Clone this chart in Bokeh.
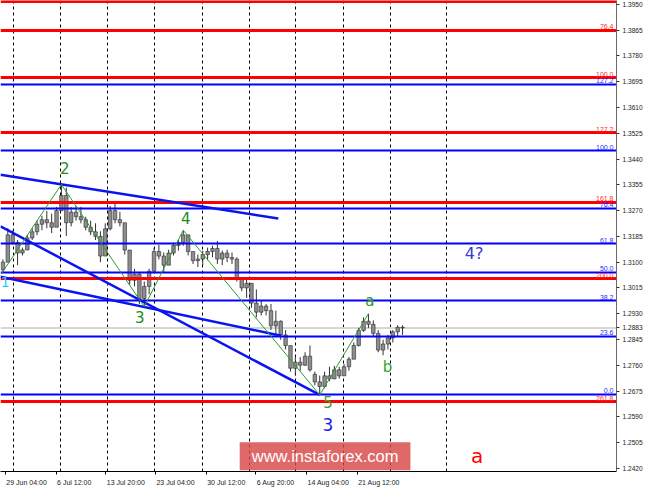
from bokeh.plotting import figure
from bokeh.models import FixedTicker, PrintfTickFormatter, Label, ColumnDataSource, Span
from bokeh.embed import file_html
from bokeh.resources import INLINE
from bokeh.core.properties import value

# ---------------- data ----------------
bar_open = [1.3075, 1.3100, 1.3190, 1.3165, 1.3130, 1.3140, 1.3180, 1.3200, 1.3225, 1.3240,
            1.3230, 1.3215, 1.3270, 1.3320, 1.3230, 1.3265, 1.3250, 1.3240, 1.3215, 1.3200,
            1.3185, 1.3120, 1.3210, 1.3270, 1.3240, 1.3230, 1.3140, 1.3040, 1.3060, 1.2980,
            1.3020, 1.3070, 1.3135, 1.3120, 1.3090, 1.3130, 1.3155, 1.3165, 1.3190, 1.3135,
            1.3105, 1.3110, 1.3125, 1.3135, 1.3145, 1.3110, 1.3130, 1.3115, 1.3110, 1.3045,
            1.3015, 1.3030, 1.2965, 1.2935, 1.2955, 1.2940, 1.2890, 1.2905, 1.2860, 1.2825,
            1.2750, 1.2770, 1.2760, 1.2790, 1.2730, 1.2705, 1.2690, 1.2725, 1.2715, 1.2745,
            1.2725, 1.2755, 1.2780, 1.2825, 1.2875, 1.2905, 1.2895, 1.2865, 1.2810, 1.2830,
            1.2850, 1.2870, 1.2885]
bar_high = [1.3109, 1.3212, 1.3205, 1.3173, 1.3148, 1.3189, 1.3212, 1.3237, 1.3253, 1.3269,
            1.3260, 1.3282, 1.3356, 1.3346, 1.3282, 1.3285, 1.3282, 1.3250, 1.3237, 1.3228,
            1.3202, 1.3228, 1.3285, 1.3292, 1.3266, 1.3212, 1.3116, 1.3078, 1.3068, 1.3036,
            1.3078, 1.3148, 1.3157, 1.3132, 1.3141, 1.3164, 1.3173, 1.3205, 1.3180, 1.3132,
            1.3125, 1.3138, 1.3148, 1.3154, 1.3170, 1.3138, 1.3141, 1.3132, 1.3116, 1.3046,
            1.3042, 1.3030, 1.3010, 1.2972, 1.2962, 1.2962, 1.2940, 1.2908, 1.2876, 1.2822,
            1.2790, 1.2787, 1.2803, 1.2825, 1.2739, 1.2726, 1.2739, 1.2755, 1.2758, 1.2755,
            1.2764, 1.2787, 1.2835, 1.2883, 1.2918, 1.2930, 1.2908, 1.2876, 1.2844, 1.2860,
            1.2876, 1.2892, 1.2892]
bar_low = [1.3068, 1.3100, 1.3157, 1.3090, 1.3122, 1.3157, 1.3173, 1.3189, 1.3205, 1.3212,
           1.3196, 1.3228, 1.3269, 1.3186, 1.3218, 1.3237, 1.3228, 1.3205, 1.3189, 1.3173,
           1.3100, 1.3148, 1.3205, 1.3228, 1.3218, 1.3125, 1.3026, 1.3020, 1.2962, 1.2953,
           1.2994, 1.3078, 1.3109, 1.3068, 1.3094, 1.3122, 1.3138, 1.3154, 1.3122, 1.3094,
           1.3084, 1.3090, 1.3106, 1.3116, 1.3094, 1.3090, 1.3100, 1.3094, 1.3036, 1.3004,
           1.2982, 1.2950, 1.2918, 1.2924, 1.2924, 1.2876, 1.2860, 1.2844, 1.2812, 1.2739,
           1.2726, 1.2742, 1.2758, 1.2739, 1.2694, 1.2662, 1.2684, 1.2707, 1.2716, 1.2716,
           1.2726, 1.2742, 1.2780, 1.2822, 1.2870, 1.2883, 1.2854, 1.2803, 1.2793, 1.2812,
           1.2835, 1.2854, 1.2860]
bar_close = [1.3100, 1.3190, 1.3165, 1.3130, 1.3140, 1.3180, 1.3200, 1.3225, 1.3240, 1.3230,
             1.3215, 1.3270, 1.3320, 1.3230, 1.3265, 1.3250, 1.3240, 1.3215, 1.3200, 1.3185,
             1.3120, 1.3210, 1.3270, 1.3240, 1.3230, 1.3140, 1.3040, 1.3060, 1.2980, 1.3020,
             1.3070, 1.3135, 1.3120, 1.3090, 1.3130, 1.3155, 1.3165, 1.3190, 1.3135, 1.3105,
             1.3110, 1.3125, 1.3135, 1.3145, 1.3110, 1.3130, 1.3115, 1.3110, 1.3045, 1.3015,
             1.3030, 1.2965, 1.2935, 1.2955, 1.2940, 1.2890, 1.2905, 1.2860, 1.2825, 1.2750,
             1.2770, 1.2760, 1.2790, 1.2745, 1.2705, 1.2690, 1.2725, 1.2715, 1.2745, 1.2725,
             1.2755, 1.2780, 1.2825, 1.2875, 1.2905, 1.2895, 1.2865, 1.2810, 1.2830, 1.2850,
             1.2870, 1.2885, 1.2883]
current_price = 1.2883

price_ticks = [1.3950, 1.3865, 1.3780, 1.3695, 1.3610, 1.3525, 1.3440, 1.3355, 1.3270,
               1.3185, 1.3100, 1.3015, 1.2930, 1.2845, 1.2760, 1.2675, 1.2590, 1.2505, 1.2420]
date_labels = ["29 Jun 04:00", "6 Jul 12:00", "13 Jul 20:00", "23 Jul 04:00",
               "30 Jul 12:00", "6 Aug 20:00", "14 Aug 04:00", "21 Aug 12:00"]
date_tick_x = [0.5, 10.9, 21.1, 31.3, 41.7, 51.9, 62.3, 72.7]
grid_x = [2.1, 11.9, 21.5, 31.1, 40.9, 50.5, 60.1, 69.9, 79.5, 91.1]

blue_fib_levels = [1.2665, 1.2855, 1.2972, 1.3067, 1.3161, 1.3278, 1.3468, 1.3686]
blue_fib_labels = ["0.0", "23.6", "38.2", "50.0", "61.8", "76.4", "100.0", "127.2"]
red_fib_levels = [1.2640, 1.3046, 1.3298, 1.3527, 1.3708, 1.3864, 1.3961]
red_fib_labels = ["261.8", "200.0", "161.8", "127.2", "100.0", "76.4", ""]

trend_x0 = [-0.5, -0.5, -0.5]
trend_p0 = [1.3388, 1.3218, 1.3052]
trend_x1 = [56.5, 65.0, 57.1]
trend_p1 = [1.3244, 1.2662, 1.2857]

wave_x = [-0.3, 12, 29, 37, 65, 75]
wave_p = [1.3062, 1.3356, 1.2953, 1.3205, 1.2662, 1.2930]

label_text = ["2", "3", "4", "a", "b", "5", "3", "4?", "a", "1"]
label_x = [12.7, 28.1, 37.5, 75.3, 78.9, 66.7, 66.7, 96.7, 97.3, 0.45]
label_p = [1.3410, 1.2918, 1.3247, 1.2972, 1.2755, 1.2640, 1.2563, 1.3129, 1.2461, 1.3036]
label_color = ["#238a23", "#238a23", "#238a23", "#2a962a", "#3c9f32", "#4f9a22",
               "#1c1cf0", "#3a3ad0", "#ff0000", "#30c8ff"]
label_size = ["15px", "15px", "15px", "15px", "15px", "15px", "17px", "16px", "20px", "14px"]

watermark = "www.instaforex.com"

# ---------------- figure ----------------
W, H = 649, 488
BR, BB = 33, 17
x_start, x_end = -0.5, 125.9
y_start, y_end = 1.24096, 1.39628

p = figure(width=W, height=H, x_range=(x_start, x_end), y_range=(y_start, y_end),
           y_axis_location="right", toolbar_location=None, output_backend="svg",
           min_border_left=0, min_border_top=0, min_border_right=BR, min_border_bottom=BB,
           background_fill_color="white", border_fill_color="white")
p.outline_line_color = None

# grid
p.ygrid.visible = False
p.xgrid.ticker = FixedTicker(ticks=grid_x)
p.xgrid.grid_line_color = "black"
p.xgrid.grid_line_dash = "3 3"
p.xgrid.grid_line_width = 1

# y axis (right) with the current price shown among the labels
ya = p.yaxis[0]
ya.ticker = FixedTicker(ticks=price_ticks + [current_price])
ya.formatter = PrintfTickFormatter(format="%.4f")
ya.major_tick_in = 0
ya.major_tick_out = 3
ya.minor_tick_line_color = None
ya.axis_line_color = "#6a6a6a"
ya.major_tick_line_color = "#333333"
ya.major_label_text_font = "Liberation Sans"
ya.major_label_text_font_size = "6.6px"
ya.major_label_text_color = "#222222"
ya.major_label_standoff = 3

# x axis with left-anchored labels: major ticks at label centres, marks at the real ticks
char_w = {d: 0.556 for d in "0123456789"}
char_w.update({" ": 0.278, ":": 0.278, "J": 0.5, "u": 0.556, "n": 0.556, "l": 0.222,
               "A": 0.667, "g": 0.556})
fs_x = 7.0
px_per_unit = (W - BR) / (x_end - x_start)
centers = []
for t, lab in zip(date_tick_x, date_labels):
    wpx = sum(char_w.get(c, 0.556) for c in lab) * fs_x
    centers.append(round(t + (wpx / 2 + 1) / px_per_unit, 3))
xa = p.xaxis[0]
xa.ticker = FixedTicker(ticks=centers, minor_ticks=date_tick_x)
xa.major_label_overrides = {c: lab for c, lab in zip(centers, date_labels)}
xa.major_tick_line_color = None
xa.minor_tick_in = 0
xa.minor_tick_out = 3
xa.minor_tick_line_color = "black"
xa.axis_line_color = "black"
xa.major_label_text_font = "Liberation Sans"
xa.major_label_text_font_size = "7px"
xa.major_label_text_color = "#222222"
xa.major_label_standoff = 1

# current price line
p.add_layout(Span(location=current_price, dimension="width", line_color="#d6d6d6",
                  line_width=2, level="underlay"))

# candles
bar_x = list(range(len(bar_open)))
src = ColumnDataSource(dict(
    x=bar_x, high=bar_high, low=bar_low,
    top=[max(o, c) for o, c in zip(bar_open, bar_close)],
    bottom=[min(o, c) for o, c in zip(bar_open, bar_close)],
))
p.segment(x0="x", y0="low", x1="x", y1="high", source=src, line_color="#333333", line_width=1)
p.vbar(x="x", width=0.72, top="top", bottom="bottom", source=src,
       fill_color="#8e8e8e", line_color="#2a2a2a", line_width=0.6)

# fibonacci levels
p.hspan(y=red_fib_levels, line_color="#ff0000", line_width=3)
p.hspan(y=blue_fib_levels, line_color="#0000ff", line_width=2)
p.text(x=[x_end] * len(red_fib_levels), y=red_fib_levels, text=red_fib_labels,
       text_align="right", text_baseline="bottom", x_offset=-3, y_offset=-1,
       text_font=value("Liberation Sans"), text_font_size="7px", text_color="#ff2a2a")
p.text(x=[x_end] * len(blue_fib_levels), y=blue_fib_levels, text=blue_fib_labels,
       text_align="right", text_baseline="bottom", x_offset=-3, y_offset=-1,
       text_font=value("Liberation Sans"), text_font_size="7px", text_color="#2a2aff")

# trend lines
p.segment(x0=trend_x0, y0=trend_p0, x1=trend_x1, y1=trend_p1,
          line_color="#0a14f0", line_width=2.5)

# wave path
p.line(wave_x, wave_p, line_color="#2f9a2f", line_width=1)

# wave labels
p.text(x=label_x, y=label_p, text=label_text, text_color=label_color,
       text_font_size=label_size, text_font=value("DejaVu Sans"),
       text_align="center", text_baseline="middle")

# watermark (kept inside the plot frame so it is not clipped)
p.add_layout(Label(x=66.1, y=y_start + 0.0050, text=watermark,
                   text_font="Liberation Sans", text_font_size="16.5px",
                   text_color="white", text_align="center", text_baseline="middle",
                   background_fill_color="#d84848", background_fill_alpha=0.82,
                   padding=(12, 5)))

open("out.html", "w").write(file_html(p, INLINE))
